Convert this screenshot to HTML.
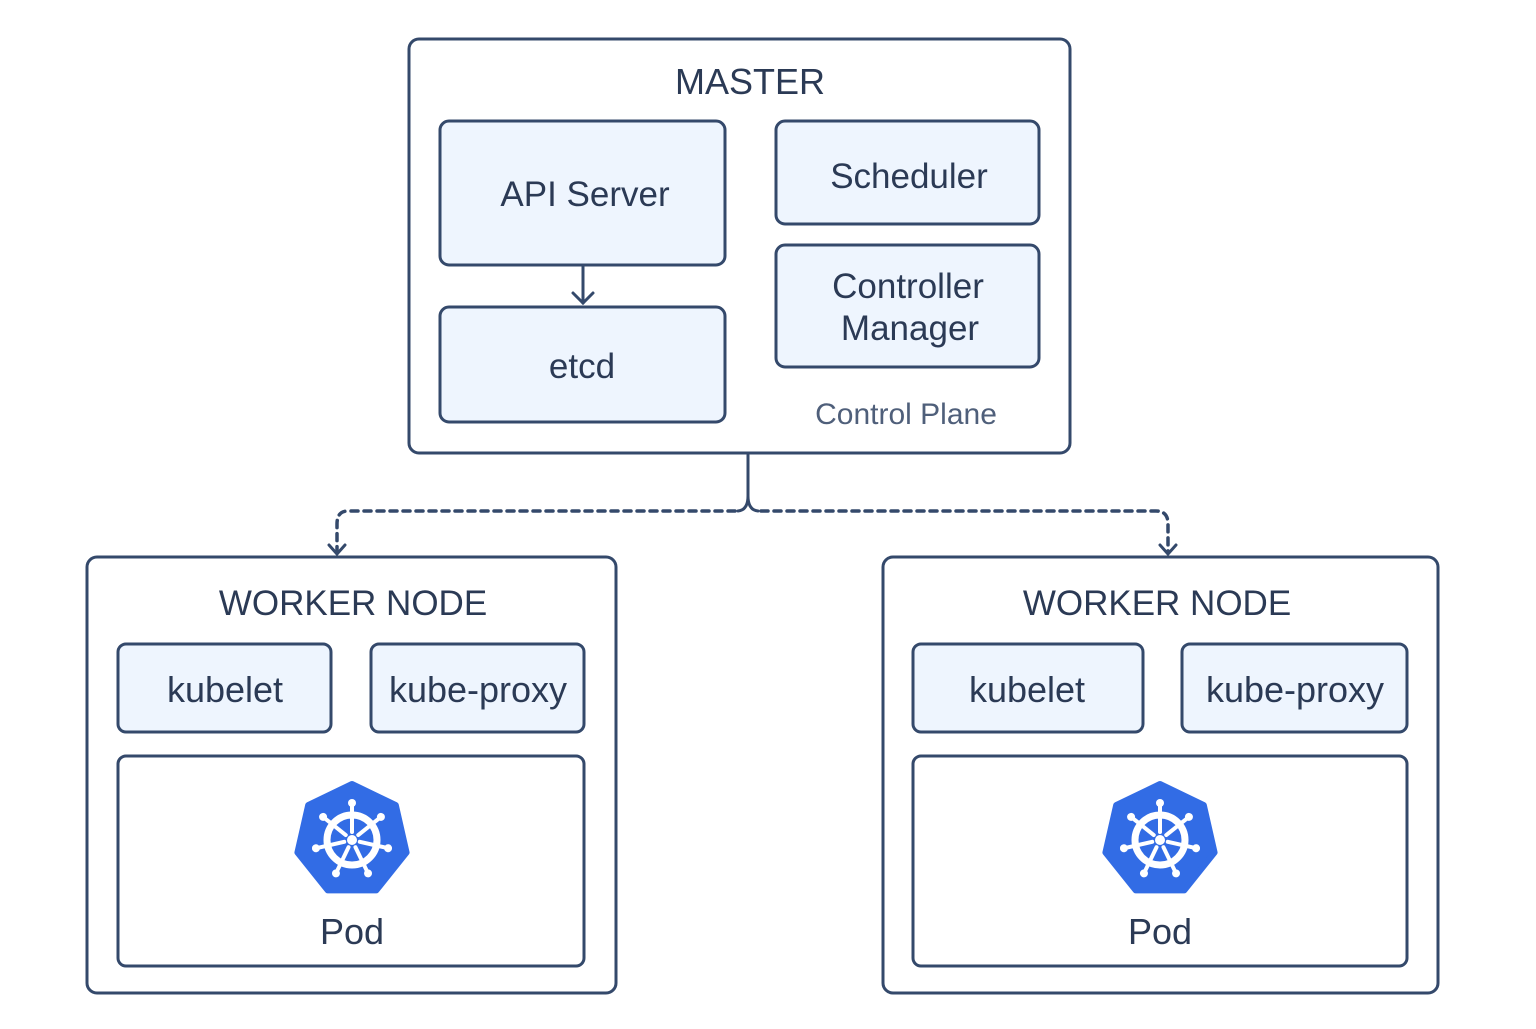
<!DOCTYPE html>
<html><head><meta charset="utf-8"><style>
html,body{margin:0;padding:0;background:#fff;}
svg text{font-family:"Liberation Sans","DejaVu Sans",sans-serif;fill:#2b3a55;text-anchor:middle;}
</style></head><body>
<svg width="1536" height="1024" viewBox="0 0 1536 1024" xmlns="http://www.w3.org/2000/svg">
<defs>
<g id="logo">
<polygon points="0,-56 43.8,-34.9 54.6,12.5 24.3,50.4 -24.3,50.4 -54.6,12.5 -43.8,-34.9" fill="#326ce5" stroke="#326ce5" stroke-width="6" stroke-linejoin="round"/>
<circle r="25" fill="none" stroke="#fff" stroke-width="7"/>
<circle r="5" fill="#fff"/>
<g stroke="#fff" stroke-width="4" stroke-linecap="round">
<line x1="0" y1="-8" x2="0" y2="-36"/>
<line x1="0" y1="-8" x2="0" y2="-36" transform="rotate(51.4)"/>
<line x1="0" y1="-8" x2="0" y2="-36" transform="rotate(102.8)"/>
<line x1="0" y1="-8" x2="0" y2="-36" transform="rotate(154.3)"/>
<line x1="0" y1="-8" x2="0" y2="-36" transform="rotate(205.7)"/>
<line x1="0" y1="-8" x2="0" y2="-36" transform="rotate(257.1)"/>
<line x1="0" y1="-8" x2="0" y2="-36" transform="rotate(308.6)"/>
</g>
<g fill="#fff">
<circle cx="0" cy="-37" r="4"/>
<circle cx="0" cy="-37" r="4" transform="rotate(51.4)"/>
<circle cx="0" cy="-37" r="4" transform="rotate(102.8)"/>
<circle cx="0" cy="-37" r="4" transform="rotate(154.3)"/>
<circle cx="0" cy="-37" r="4" transform="rotate(205.7)"/>
<circle cx="0" cy="-37" r="4" transform="rotate(257.1)"/>
<circle cx="0" cy="-37" r="4" transform="rotate(308.6)"/>
</g>
</g>
</defs>
<g stroke="#34496b" stroke-width="3" fill="none">
<rect x="409" y="39" width="661" height="414" rx="10"/>
<rect x="87" y="557" width="529" height="436" rx="10"/>
<rect x="883" y="557" width="555" height="436" rx="10"/>
<rect x="118" y="756" width="466" height="210" rx="8"/>
<rect x="913" y="756" width="494" height="210" rx="8"/>
</g>
<g stroke="#34496b" stroke-width="3" fill="#eef5fe">
<rect x="440" y="121" width="285" height="144" rx="9"/>
<rect x="440" y="307" width="285" height="115" rx="9"/>
<rect x="776" y="121" width="263" height="103" rx="9"/>
<rect x="776" y="245" width="263" height="122" rx="9"/>
<rect x="118" y="644" width="213" height="88" rx="8"/>
<rect x="371" y="644" width="213" height="88" rx="8"/>
<rect x="913" y="644" width="230" height="88" rx="8"/>
<rect x="1182" y="644" width="225" height="88" rx="8"/>
</g>
<g stroke="#34496b" stroke-width="3" fill="none" stroke-linecap="round">
<line x1="583" y1="265" x2="583" y2="303"/>
<polyline points="573,293 583,303 593,293"/>
<path d="M748,455 V496 Q748,510 738,511"/>
<path d="M748,496 Q748,510 758,511"/>
<path d="M735,511 H348 Q337,511 337,524 V552" stroke-dasharray="7,6" stroke-width="3.5"/>
<path d="M761,511 H1156 Q1168,511 1168,524 V552" stroke-dasharray="7,6" stroke-width="3.5"/>
<polyline points="329,545 337,554 345,545"/>
<polyline points="1160,545 1168,554 1176,545"/>
</g>
<use href="#logo" x="352" y="840"/>
<use href="#logo" x="1160" y="840"/>
<text x="750" y="94" font-size="36">MASTER</text>
<text x="585" y="206" font-size="35">API Server</text>
<text x="582" y="378" font-size="35">etcd</text>
<text x="909" y="188" font-size="35">Scheduler</text>
<text x="908" y="298" font-size="35">Controller</text>
<text x="910" y="340" font-size="35">Manager</text>
<text x="906" y="424" font-size="30" style="fill:#4f5f7a">Control Plane</text>
<text x="353" y="615" font-size="35">WORKER NODE</text>
<text x="1157" y="615" font-size="35">WORKER NODE</text>
<text x="225" y="702" font-size="36">kubelet</text>
<text x="478" y="702" font-size="36">kube-proxy</text>
<text x="1027" y="702" font-size="36">kubelet</text>
<text x="1295" y="702" font-size="36">kube-proxy</text>
<text x="352" y="944" font-size="36">Pod</text>
<text x="1160" y="944" font-size="36">Pod</text>
</svg>
</body></html>
